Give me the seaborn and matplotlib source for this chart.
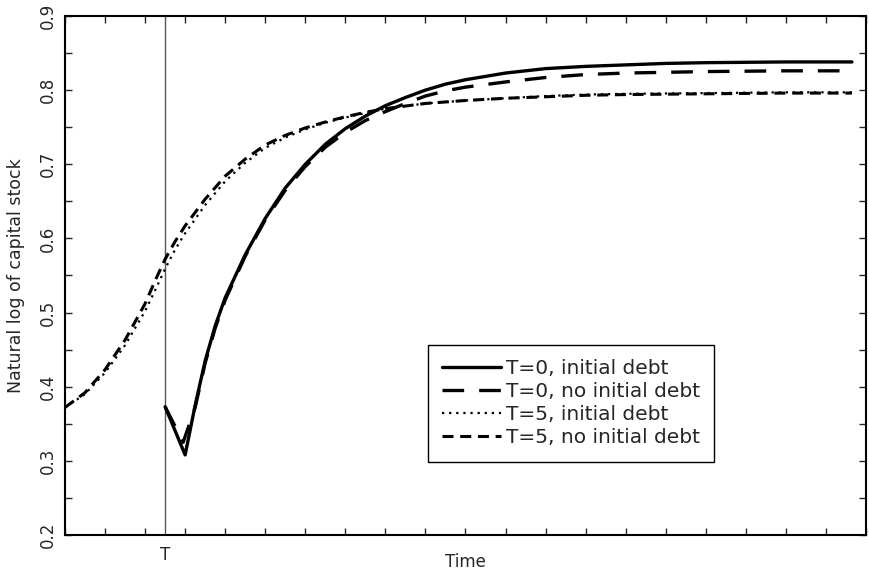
"""
Capital stock paths around the policy date T (four scenarios)
"""

import pandas as pd
import matplotlib
matplotlib.use("Agg")
import matplotlib.pyplot as plt
from matplotlib.ticker import MultipleLocator
import seaborn as sns

# Policy date on the (unlabelled) time axis
T_POS = 2.5

# T=5 paths start at the left edge
time_t5 = [0, 0.5, 1.0, 1.5, 2.0, 2.25, 2.5, 2.75, 3.0, 3.5, 4.0, 4.5, 5.0, 5.5,
           6.0, 6.5, 7.0, 7.5, 8.0, 9.0, 10, 11, 12, 13, 14, 16, 18, 19.65]
t5_no_debt = [0.372, 0.392, 0.423, 0.463, 0.512, 0.543, 0.572, 0.596, 0.617, 0.653,
              0.684, 0.707, 0.726, 0.739, 0.749, 0.757, 0.764, 0.770, 0.775, 0.782,
              0.786, 0.789, 0.791, 0.793, 0.794, 0.795, 0.796, 0.796]
t5_debt = [0.372, 0.390, 0.419, 0.456, 0.502, 0.530, 0.559, 0.585, 0.607, 0.645,
           0.677, 0.702, 0.722, 0.736, 0.747, 0.756, 0.763, 0.769, 0.775, 0.782,
           0.786, 0.789, 0.792, 0.794, 0.795, 0.796, 0.797, 0.797]

# T=0 paths start at T
time_t0_debt = [2.5, 3.0, 3.25, 3.5, 3.75, 4.0, 4.5, 5.0, 5.5, 6.0, 6.5, 7.0, 7.5,
                8.0, 8.5, 9.0, 9.5, 10, 11, 12, 13, 14, 15, 16, 18, 19.65]
t0_debt = [0.373, 0.308, 0.375, 0.435, 0.482, 0.520, 0.578, 0.627, 0.668, 0.700,
           0.727, 0.748, 0.765, 0.779, 0.790, 0.800, 0.808, 0.814, 0.823, 0.829,
           0.832, 0.834, 0.836, 0.837, 0.838, 0.838]
time_t0_no_debt = [2.5, 2.95, 3.25, 3.5, 3.75, 4.0, 4.5, 5.0, 5.5, 6.0, 6.5, 7.0,
                   7.5, 8.0, 8.5, 9.0, 9.5, 10, 11, 12, 13, 14, 16, 18, 19.65]
t0_no_debt = [0.373, 0.325, 0.372, 0.432, 0.479, 0.517, 0.576, 0.625, 0.665, 0.697,
              0.723, 0.743, 0.759, 0.771, 0.782, 0.792, 0.799, 0.804, 0.811, 0.817,
              0.821, 0.823, 0.825, 0.826, 0.826]

sns.set_style("ticks")
plt.rcParams['font.family'] = ['DejaVu Sans']

fig = plt.figure(figsize=(8.69, 5.70), dpi=100)
ax = fig.add_axes([0.0748, 0.0614, 0.9217, 0.9106])

ax.axvline(T_POS, color='#555555', linewidth=1.0, zorder=1)

series = [
    ('T=0, initial debt', time_t0_debt, t0_debt, 2.4, '-'),
    ('T=0, no initial debt', time_t0_no_debt, t0_no_debt, 2.4, (0, (6.5, 4.5))),
    ('T=5, initial debt', time_t5, t5_debt, 1.6, (0, (1, 2.2))),
    ('T=5, no initial debt', time_t5, t5_no_debt, 2.2, (0, (3.6, 2.2))),
]
for label, x, y, lw, ls in series:
    df = pd.DataFrame({'time': x, 'logk': y})
    sns.lineplot(data=df, x='time', y='logk', ax=ax, color='black', linewidth=lw,
                 linestyle=ls, label=label, sort=False, estimator=None, zorder=3)

ax.set_xlim(0, 20)
ax.set_ylim(0.2, 0.9)

# x axis: plain ticks every unit, only T gets a label
ax.xaxis.set_minor_locator(MultipleLocator(1))
ax.set_xticks([T_POS])
ax.set_xticklabels(['T'], fontsize=12)
ax.tick_params(axis='x', which='major', length=0, pad=8)
ax.tick_params(axis='x', which='minor', length=5, width=1, direction='in',
               top=True, bottom=True)

ax.yaxis.set_major_locator(MultipleLocator(0.1))
ax.yaxis.set_minor_locator(MultipleLocator(0.05))
ax.set_yticks([0.2, 0.3, 0.4, 0.5, 0.6, 0.7, 0.8, 0.9])
ax.set_yticklabels(['0.2', '0.3', '0.4', '0.5', '0.6', '0.7', '0.8', '0.9'],
                   rotation=90, va='center', fontsize=12)
ax.tick_params(axis='y', which='both', length=5, width=1, direction='in',
               left=True, right=True, pad=6)

for side in ['left', 'right', 'top', 'bottom']:
    ax.spines[side].set_visible(True)
    ax.spines[side].set_linewidth(1.5)
    ax.spines[side].set_color('black')

ax.set_xlabel('Time', fontsize=12)
ax.xaxis.set_label_coords(0.5, -0.034)
ax.set_ylabel('Natural log of capital stock', fontsize=12.5)
ax.yaxis.set_label_coords(-0.050, 0.5)

leg = ax.legend(loc='lower left', bbox_to_anchor=(0.453, 0.141), fontsize=14.5,
                frameon=True, fancybox=False, edgecolor='black', framealpha=1,
                handlelength=2.9, handletextpad=0.25, labelspacing=0.2,
                borderpad=0.72, borderaxespad=0)
leg.get_frame().set_linewidth(1.0)

fig.savefig('out.png', dpi=100)
plt.close(fig)
